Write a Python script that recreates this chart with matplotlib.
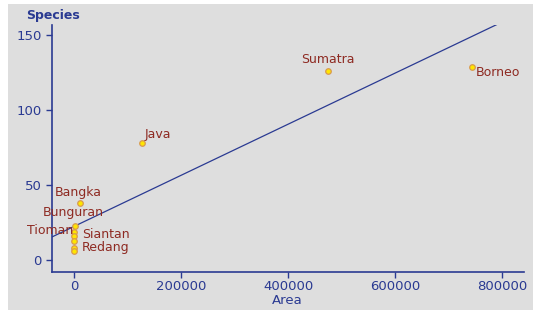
import numpy as np
import matplotlib.pyplot as plt
from matplotlib.patches import Rectangle

# ilhas: area (km2) e numero de especies
ilhas = ['Borneo', 'Sumatra', 'Java', 'Bangka', 'Bunguran', 'Tioman',
         'Siantan', 'Redang', '', '']
area = [744000, 474000, 126500, 11200, 1600, 300, 200, 150, 100, 80]
especies = [129, 126, 78, 38, 23, 19, 16, 13, 8, 6]

AZUL = '#2a3a92'
VERMELHO = '#8e2a22'

fig = plt.figure(figsize=(5.35, 3.12), dpi=100)
fig.patch.set_facecolor('white')
fig.patches.append(Rectangle((8 / 535, 2 / 312), 525 / 535, 306 / 312,
                             transform=fig.transFigure, facecolor='#dedede',
                             edgecolor='none', zorder=-10))

ax = fig.add_axes([52 / 535, 40 / 312, 472 / 535, 247 / 312])
ax.set_zorder(5)
ax.set_facecolor('none')
ax.set_xlim(-41000, 841000)
ax.set_ylim(-8, 157)

# reta de regressao
coef = np.polyfit(area, especies, 1)
xs = np.array([-41000, 841000])
ax.plot(xs, np.polyval(coef, xs), color=AZUL, lw=0.9, zorder=2)

ax.scatter(area, especies, s=16, color='#ffe600', edgecolor='#d89a50',
           linewidth=0.9, zorder=3, clip_on=False)

# deslocamentos dos rotulos em pixels
desloc = {'Borneo': (4, -6, 'left'), 'Sumatra': (0, 12, 'center'),
          'Java': (3, 9, 'left'), 'Bangka': (-25, 11, 'left'),
          'Bunguran': (-32, 13, 'left'), 'Tioman': (-1, 1, 'right'),
          'Siantan': (8, 2, 'left'), 'Redang': (8, -7, 'left')}
for nome, x, y in zip(ilhas, area, especies):
    if nome == '':
        continue
    dx, dy, ha = desloc[nome]
    ax.annotate(nome, (x, y), xytext=(dx * 0.72, dy * 0.72),
                textcoords='offset points', color=VERMELHO, fontsize=9,
                ha=ha, va='center')

for lado in ['top', 'right']:
    ax.spines[lado].set_visible(False)
for lado in ['left', 'bottom']:
    ax.spines[lado].set_color(AZUL)
    ax.spines[lado].set_linewidth(1.2)

ax.set_xticks([0, 200000, 400000, 600000, 800000])
ax.set_yticks([0, 50, 100, 150])
ax.tick_params(colors=AZUL, labelsize=9.5, length=4, width=1)
ax.tick_params(axis='x', pad=2)

fig.text(26 / 535, 1 - 15 / 312, 'Species', color=AZUL, fontsize=9,
         fontweight='bold', va='center')
fig.text(272 / 535, 1 - 301 / 312, 'Area', color=AZUL, fontsize=9.5,
         va='center')

fig.savefig('out.png', dpi=100, facecolor=fig.get_facecolor())
